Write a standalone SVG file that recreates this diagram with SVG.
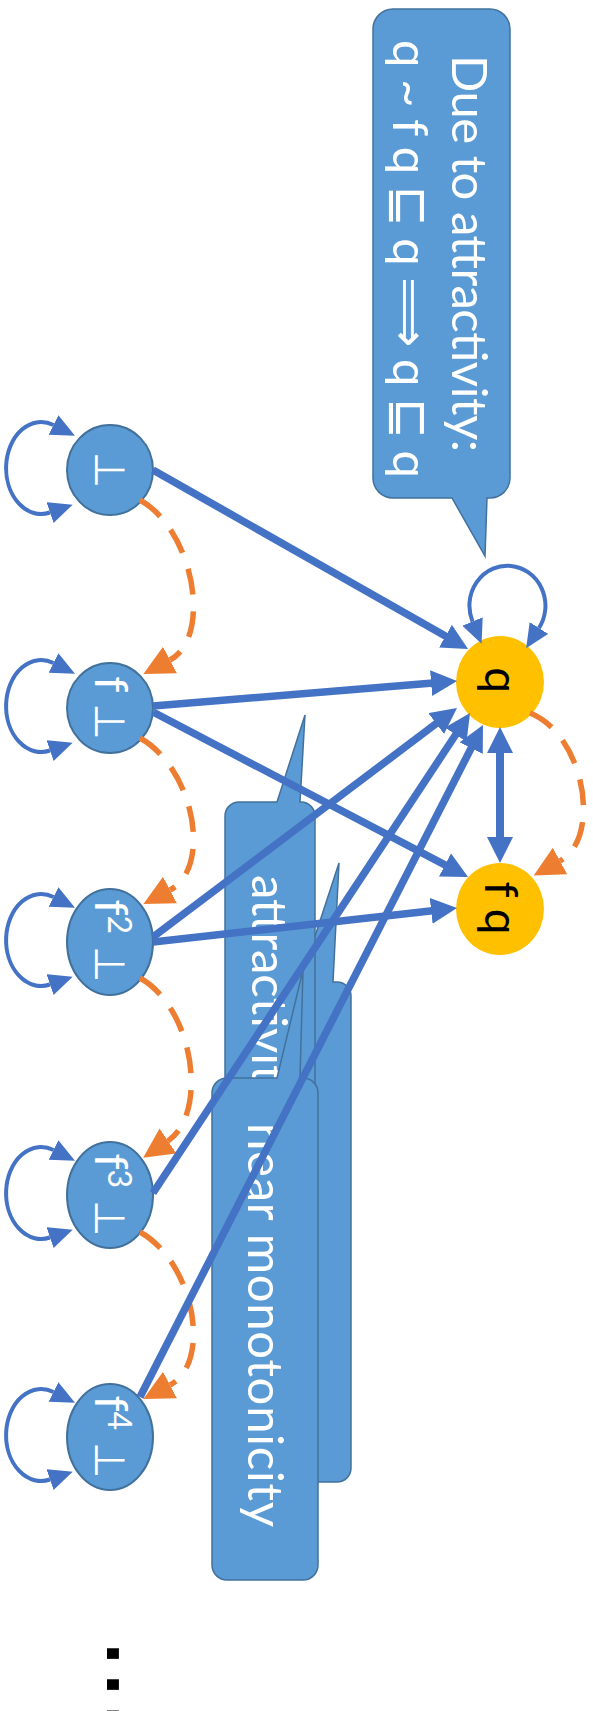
<svg xmlns="http://www.w3.org/2000/svg" width="593" height="1711" viewBox="0 0 593 1711">
  <defs>
    <style>
      .callout { fill: #5B9BD5; stroke: #41719C; stroke-width: 1.5; }
      .ctext { fill: #FFFFFF; font-family: Lato, "DejaVu Sans", sans-serif; font-size: 49px; }
      .node { fill: #5B9BD5; stroke: #41719C; stroke-width: 2; }
      .goal { fill: #FFC000; }
      .nlabel { fill: #FFFFFF; font-family: Lato, "DejaVu Sans", sans-serif; font-size: 46px; text-anchor: middle; }
      .glabel { fill: #000000; font-family: Lato, "DejaVu Sans", sans-serif; font-size: 46px; text-anchor: middle; }
      .bot { font-family: "DejaVu Sans", sans-serif; font-size: 42px; }
      .edge { fill: none; stroke: #4472C4; stroke-width: 7.5; marker-end: url(#ab); }
      .loop { fill: none; stroke: #4472C4; stroke-width: 4; marker-start: url(#al); marker-end: url(#al); }
      .step { fill: none; stroke: #ED7D31; stroke-width: 5.5; stroke-dasharray: 26 17; marker-end: url(#ao); }
    </style>
    <marker id="ab" markerUnits="userSpaceOnUse" markerWidth="28" markerHeight="28" refX="8" refY="13" orient="auto-start-reverse">
      <path d="M0,0 L26,13 L0,26 Z" fill="#4472C4"/>
    </marker>
    <marker id="al" markerUnits="userSpaceOnUse" markerWidth="26" markerHeight="24" refX="0" refY="11" orient="auto-start-reverse">
      <path d="M0,0 L24,11 L0,22 Z" fill="#4472C4"/>
    </marker>
    <marker id="ao" markerUnits="userSpaceOnUse" markerWidth="32" markerHeight="32" refX="0" refY="15" orient="auto">
      <path d="M0,0 L30,15 L0,30 Z" fill="#ED7D31"/>
    </marker>
  </defs>

  <!-- callouts, back to front -->
  <g id="callout-hidden">
    <path class="callout" d="M299,982 H300 L339,863 L333,982 H337 A14,14 0 0 1 351,996 V1468 A14,14 0 0 1 337,1482 H299 A14,14 0 0 1 285,1468 V996 A14,14 0 0 1 299,982 Z"/>
  </g>
  <g id="callout-attractivity">
    <path class="callout" d="M239,802 H277 L305,715 L300,802 H301 A14,14 0 0 1 315,816 V1286 A14,14 0 0 1 301,1300 H239 A14,14 0 0 1 225,1286 V816 A14,14 0 0 1 239,802 Z"/>
    <text class="ctext" transform="translate(252,875) rotate(90)">attractivity</text>
  </g>
  <g id="callout-monotonicity">
    <path class="callout" d="M227,1078 H277 L303,970 L300,1078 H303 A15,15 0 0 1 318,1093 V1565 A15,15 0 0 1 303,1580 H227 A15,15 0 0 1 212,1565 V1093 A15,15 0 0 1 227,1078 Z"/>
    <text class="ctext" transform="translate(248,1123) rotate(90)" textLength="404">near monotonicity</text>
  </g>
  <g id="callout-due">
    <path class="callout" d="M393,9 H490 A20,20 0 0 1 510,29 V478 A20,20 0 0 1 490,498 H487 L485,556 L452,498 H393 A20,20 0 0 1 373,478 V29 A20,20 0 0 1 393,9 Z"/>
    <text class="ctext" transform="translate(452,55) rotate(90)" textLength="397">Due to attractivity:</text>
    <text class="ctext" transform="translate(393,40) rotate(90)" textLength="438">q ~ f q ⊑ q ⟹ q ⊑ q</text>
  </g>

  <!-- nodes -->
  <g id="node-bot">
    <ellipse class="node" cx="110" cy="470" rx="43" ry="45"/>
    <text class="nlabel" transform="translate(95,470) rotate(90)"><tspan class="bot">⊥</tspan></text>
  </g>
  <g id="node-f1">
    <ellipse class="node" cx="110" cy="708" rx="43" ry="45"/>
    <text class="nlabel" transform="translate(95,708) rotate(90)">f <tspan class="bot">⊥</tspan></text>
  </g>
  <g id="node-f2">
    <ellipse class="node" cx="110" cy="942" rx="43" ry="53"/>
    <text class="nlabel" transform="translate(95,941) rotate(90)">f<tspan dy="-13" font-size="32">2</tspan><tspan dy="13"> </tspan><tspan class="bot">⊥</tspan></text>
  </g>
  <g id="node-f3">
    <ellipse class="node" cx="110" cy="1195" rx="43" ry="53"/>
    <text class="nlabel" transform="translate(95,1195) rotate(90)">f<tspan dy="-13" font-size="32">3</tspan><tspan dy="13"> </tspan><tspan class="bot">⊥</tspan></text>
  </g>
  <g id="node-f4">
    <ellipse class="node" cx="110" cy="1437" rx="43" ry="53"/>
    <text class="nlabel" transform="translate(95,1437) rotate(90)">f<tspan dy="-13" font-size="32">4</tspan><tspan dy="13"> </tspan><tspan class="bot">⊥</tspan></text>
  </g>
  <g id="node-q">
    <ellipse class="goal" cx="500" cy="682" rx="44" ry="46"/>
    <text class="glabel" transform="translate(485,680) rotate(90)">q</text>
  </g>
  <g id="node-fq">
    <ellipse class="goal" cx="500" cy="909" rx="44" ry="46"/>
    <text class="glabel" transform="translate(485,908) rotate(90)">f q</text>
  </g>

  <!-- connectors -->
  <g id="connectors">
    <path class="loop" d="M50,512.5 A35,46 0 1 1 53.5,425"/>
    <path class="loop" d="M50,750.5 A35,46 0 1 1 53.5,663"/>
    <path class="loop" d="M50,984.5 A35,46 0 1 1 53.5,897"/>
    <path class="loop" d="M50,1237.5 A35,46 0 1 1 53.5,1150"/>
    <path class="loop" d="M50,1479.5 A35,46 0 1 1 53.5,1392"/>
    <path class="loop" d="M472.5,621.5 A38,40 0 1 1 539,628"/>

    <path class="step" d="M140,500 C195,531 212,638 170,660"/>
    <path class="step" d="M140,738 C195,769 212,868 170,890"/>
    <path class="step" d="M140,978 C195,1009 208,1114 168,1141"/>
    <path class="step" d="M140,1232 C195,1263 212,1363 170,1385"/>
    <path class="step" d="M530,713 C585,735 602,838 560,861"/>

    <path class="edge" d="M153,470 L452.4,640.1"/>
    <path class="edge" d="M153,706 L439.1,682.5"/>
    <path class="edge" d="M153,712 L452.1,868.6"/>
    <path class="edge" d="M153,937 L442.6,718.8"/>
    <path class="edge" d="M153,942 L439.1,910"/>
    <path class="edge" d="M153,1193 L460.1,728"/>
    <path class="edge" d="M140,1397 L474.8,741"/>
    <path class="edge" style="stroke-width:8; marker-start:url(#ab)" d="M500,745 L500,845"/>
  </g>

  <!-- continuation dots -->
  <text transform="translate(107,1638) rotate(90)" font-family="'Liberation Sans', sans-serif" font-size="112" fill="#000000">...</text>
</svg>
